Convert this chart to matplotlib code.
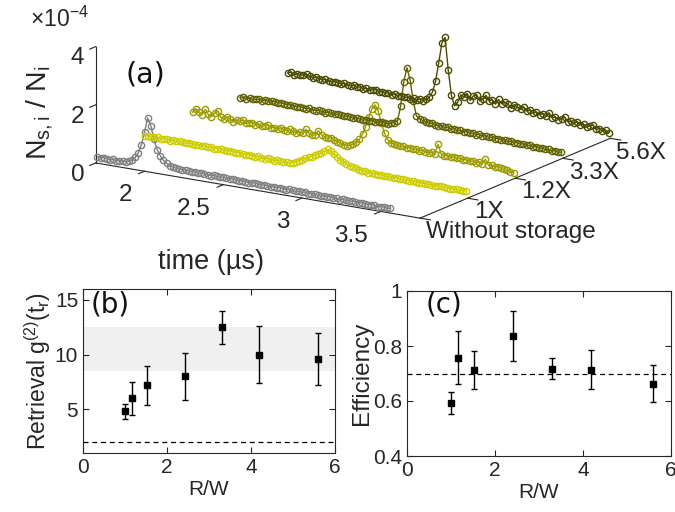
import numpy as np
import matplotlib
matplotlib.use('Agg')
import matplotlib.pyplot as plt

plt.rcParams['font.family'] = ['Liberation Sans', 'DejaVu Sans']
plt.rcParams['mathtext.fontset'] = 'custom'
plt.rcParams['mathtext.rm'] = 'Liberation Sans'
plt.rcParams['mathtext.it'] = 'Liberation Sans:italic'

# ---- panel (a): N_s,i / N_i traces (units of 1e-4), sampled every 0.02 us from 1.70 us
t_start = 1.70
t_step = 0.02
series_names = ['Without storage', '1X', '1.2X', '3.3X', '5.6X']
series_colors = ['#808080', '#cccc00', '#9c9c00', '#616100', '#4b4b00']

trace_without = [0.22, 0.20, 0.23, 0.21, 0.19, 0.22, 0.20, 0.21, 0.23, 0.22,
                 0.25, 0.30, 0.42, 0.60, 0.90, 1.35, 1.85, 1.60, 1.15, 0.82,
                 0.62, 0.48, 0.40, 0.34, 0.31, 0.29, 0.28, 0.27, 0.28, 0.27,
                 0.26, 0.27, 0.25, 0.26, 0.27, 0.25, 0.24, 0.26, 0.25, 0.24,
                 0.25, 0.23, 0.24, 0.25, 0.23, 0.22, 0.24, 0.23, 0.22, 0.23,
                 0.24, 0.22, 0.21, 0.23, 0.22, 0.20, 0.22, 0.21, 0.23, 0.21,
                 0.20, 0.22, 0.21, 0.19, 0.21, 0.20, 0.22, 0.19, 0.20, 0.21,
                 0.19, 0.18, 0.20, 0.19, 0.21, 0.18, 0.19, 0.17, 0.19, 0.18,
                 0.17, 0.19, 0.18, 0.16, 0.18, 0.17, 0.16, 0.18, 0.17, 0.15,
                 0.16, 0.17, 0.15, 0.16]
trace_1x = [0.25, 0.27, 0.24, 0.26, 0.28, 0.25, 0.27, 0.26, 0.24, 0.27,
            0.25, 0.28, 0.26, 0.24, 0.27, 0.25, 0.23, 0.26, 0.24, 0.25,
            0.23, 0.25, 0.22, 0.24, 0.26, 0.23, 0.21, 0.24, 0.22, 0.20,
            0.23, 0.21, 0.19, 0.22, 0.20, 0.18, 0.21, 0.19, 0.17, 0.20,
            0.18, 0.16, 0.19, 0.17, 0.15, 0.17, 0.16, 0.20, 0.24, 0.30,
            0.36, 0.42, 0.48, 0.52, 0.58, 0.63, 0.70, 0.78, 0.86, 0.82,
            0.74, 0.66, 0.58, 0.52, 0.47, 0.43, 0.40, 0.37, 0.35, 0.33,
            0.32, 0.30, 0.31, 0.29, 0.28, 0.30, 0.27, 0.28, 0.26, 0.27,
            0.28, 0.26, 0.27, 0.25, 0.26, 0.27, 0.25, 0.24, 0.26, 0.25,
            0.24, 0.25, 0.23, 0.24, 0.25, 0.23, 0.24, 0.22, 0.23, 0.24,
            0.22, 0.23, 0.24]
trace_12x = [0.38, 0.52, 0.41, 0.35, 0.55, 0.40, 0.34, 0.48, 0.56, 0.37,
             0.33, 0.42, 0.36, 0.30, 0.38, 0.34, 0.40, 0.31, 0.35, 0.37,
             0.32, 0.36, 0.30, 0.34, 0.38, 0.31, 0.33, 0.29, 0.35, 0.32,
             0.30, 0.36, 0.31, 0.28, 0.33, 0.30, 0.46, 0.34, 0.29, 0.32,
             0.48, 0.36, 0.30, 0.27, 0.31, 0.26, 0.22, 0.18, 0.15, 0.13,
             0.16, 0.22, 0.30, 0.42, 0.62, 0.90, 1.25, 1.55, 1.70, 1.50,
             1.10, 0.78, 0.58, 0.50, 0.46, 0.44, 0.42, 0.45, 0.41, 0.43,
             0.40, 0.42, 0.38, 0.41, 0.39, 0.37, 0.40, 0.36, 0.72, 0.39,
             0.36, 0.38, 0.35, 0.37, 0.34, 0.36, 0.33, 0.35, 0.32, 0.34,
             0.31, 0.33, 0.30, 0.48, 0.29, 0.31, 0.27, 0.29, 0.26, 0.24,
             0.22, 0.20, 0.18]
trace_33x = [0.20, 0.22, 0.19, 0.24, 0.21, 0.23, 0.25, 0.22, 0.26, 0.24,
             0.27, 0.25, 0.23, 0.26, 0.24, 0.22, 0.25, 0.23, 0.21, 0.24,
             0.22, 0.20, 0.23, 0.21, 0.19, 0.22, 0.20, 0.18, 0.21, 0.19,
             0.17, 0.20, 0.18, 0.16, 0.19, 0.17, 0.15, 0.18, 0.16, 0.14,
             0.17, 0.15, 0.18, 0.14, 0.16, 0.19, 0.17, 0.15, 0.20, 0.24,
             0.32, 0.85, 1.70, 2.20, 1.80, 1.10, 0.60, 0.52, 0.48, 0.45,
             0.42, 0.44, 0.40, 0.38, 0.41, 0.37, 0.39, 0.35, 0.37, 0.34,
             0.36, 0.33, 0.35, 0.32, 0.34, 0.31, 0.33, 0.30, 0.32, 0.29,
             0.31, 0.28, 0.30, 0.27, 0.29, 0.26, 0.28, 0.25, 0.27, 0.24,
             0.26, 0.23, 0.25, 0.22, 0.24, 0.21, 0.23, 0.20, 0.22, 0.19,
             0.21, 0.18, 0.20]
trace_56x = [0.36, 0.40, 0.33, 0.38, 0.35, 0.39, 0.42, 0.37, 0.34, 0.38,
             0.35, 0.32, 0.36, 0.33, 0.30, 0.34, 0.31, 0.29, 0.33, 0.30,
             0.28, 0.32, 0.27, 0.30, 0.26, 0.29, 0.25, 0.27, 0.30, 0.24,
             0.26, 0.23, 0.27, 0.22, 0.25, 0.21, 0.24, 0.20, 0.23, 0.19,
             0.22, 0.18, 0.24, 0.20, 0.26, 0.35, 0.55, 0.95, 1.60, 2.30,
             2.50, 1.40, 0.55, 0.20, 0.35, 0.62, 0.55, 0.70, 0.48, 0.66,
             0.72, 0.52, 0.60, 0.75, 0.58, 0.64, 0.50, 0.68, 0.55, 0.62,
             0.58, 0.45, 0.60, 0.52, 0.48, 0.56, 0.44, 0.50, 0.42, 0.47,
             0.40, 0.45, 0.38, 0.52, 0.36, 0.41, 0.34, 0.39, 0.46, 0.32,
             0.35, 0.30, 0.38, 0.28, 0.33, 0.26, 0.30, 0.36, 0.22, 0.27,
             0.20, 0.25, 0.18]
traces = [trace_without, trace_1x, trace_12x, trace_33x, trace_56x]

# ---- panels (b) and (c)
rw = [1.0, 1.17, 1.52, 2.42, 3.30, 4.19, 5.60]
g2 = [4.8, 6.0, 7.2, 8.0, 12.5, 10.0, 9.6]
g2_err = [0.65, 1.5, 1.8, 2.15, 1.5, 2.6, 2.4]
g2_band = (8.5, 12.5)
g2_classical = 2.0
eff = [0.594, 0.758, 0.712, 0.836, 0.718, 0.714, 0.663]
eff_err = [0.04, 0.097, 0.07, 0.09, 0.037, 0.07, 0.067]
eff_ref = 0.70

fig = plt.figure(figsize=(6.75, 5.12), dpi=100)

# ---------------- (a)  square 3D axes, centred on the box centre
side = 560
cx, cy = 345.5, 100
ax = fig.add_axes([(cx - side / 2) / 675, 1 - (cy + side / 2) / 512,
                   side / 675, side / 512], projection='3d', proj_type='ortho')
ax.set_facecolor('none')
ax.patch.set_alpha(0)
ax.view_init(elev=15.5, azim=-57.5)
ax.set_box_aspect((3.31, 3.05, 1.04), zoom=0.93)
for k, (vals, col) in enumerate(zip(traces, series_colors)):
    tt = t_start + t_step * np.arange(len(vals))
    ln, = ax.plot(tt, np.full(len(vals), k), vals, color=col, lw=1.0,
                  marker='o', ms=4.5, mfc='none', mew=1.0)
    ln.set_clip_on(False)
ax.set_xlim(1.69, 3.75)
ax.set_ylim(0, 4)
ax.set_zlim(0, 4)
ax.set_xticks([2, 2.5, 3, 3.5])
ax.set_xticklabels(['2', '2.5', '3', '3.5'], ha='right')
ax.set_yticks(range(len(series_names)))
ax.set_yticklabels(series_names, ha='left', va='top')
ax.set_zticks([0, 2, 4])
ax.set_zticklabels(['0', '2', '4'])
ax.zaxis.set_ticks_position('lower')
ax.grid(False)
for axis in (ax.xaxis, ax.yaxis, ax.zaxis):
    axis.set_pane_color((1, 1, 1, 0))
    axis.pane.set_edgecolor((1, 1, 1, 0))
    axis.line.set_color('#262626')
    axis.line.set_linewidth(0.8)
    axis._axinfo['tick']['inward_factor'] = 0.4
    axis._axinfo['tick']['outward_factor'] = 0.0
    axis._axinfo['tick']['color'] = '#262626'
ax.tick_params(labelsize=17.5, colors='#262626')
ax.tick_params(axis='x', pad=6)
ax.tick_params(axis='y', pad=-4)
ax.tick_params(axis='z', pad=-0.5)

fig.text(30 / 675, 1 - 19 / 512, r'$\times$10$^{-4}$', fontsize=16.5, color='#262626',
         va='center', ha='left')
fig.text(40 / 675, 1 - 113 / 512, r'N$_{\mathrm{s,i}}$ / N$_{\mathrm{i}}$', fontsize=20.5,
         rotation=90, ha='center', va='center', color='#262626')
fig.text(211 / 675, 1 - 262 / 512, 'time (µs)', fontsize=19.5, ha='center', va='center',
         color='#262626')
fig.text(145 / 675, 1 - 75 / 512, '(a)', fontsize=20.5, ha='center', va='center',
         family='DejaVu Sans', color='#111111')


def style_box(a):
    a.tick_params(direction='in', top=True, right=True, length=4, width=0.8,
                  labelsize=15, colors='#262626')
    for s in a.spines.values():
        s.set_linewidth(0.8)
        s.set_color('#262626')


# ---------------- (b)
axb = fig.add_axes([83 / 675, 1 - 453 / 512, 252 / 675, 164 / 512])
axb.axhspan(g2_band[0], g2_band[1], color='#f0f0f0', lw=0, zorder=0)
axb.axhline(g2_classical, color='k', ls='--', lw=0.9, dashes=(4, 3))
axb.errorbar(rw, g2, yerr=g2_err, fmt='s', color='k', ms=5, capsize=2,
             elinewidth=1, capthick=1)
axb.set_xlim(0, 6)
axb.set_ylim(1, 16)
axb.set_xticks([0, 2, 4, 6])
axb.set_yticks([5, 10, 15])
axb.set_xlabel('R/W', fontsize=15, color='#262626', labelpad=2)
axb.set_ylabel(r'Retrieval g$^{\mathrm{(2)}}$(t$_{\mathrm{r}}$)', fontsize=16.5,
               color='#262626', labelpad=1)
style_box(axb)
axb.text(0.03, 0.99, '(b)', transform=axb.transAxes, fontsize=20, va='top',
         family='DejaVu Sans', color='#111111')

# ---------------- (c)
axc = fig.add_axes([407 / 675, 1 - 456 / 512, 264 / 675, 165 / 512])
axc.axhline(eff_ref, color='k', ls='--', lw=0.9, dashes=(4, 3))
axc.errorbar(rw, eff, yerr=eff_err, fmt='s', color='k', ms=5, capsize=2,
             elinewidth=1, capthick=1)
axc.set_xlim(0, 6)
axc.set_ylim(0.4, 1.0)
axc.set_xticks([0, 2, 4, 6])
axc.set_yticks([0.4, 0.6, 0.8, 1.0])
axc.set_yticklabels(['0.4', '0.6', '0.8', '1'])
axc.set_xlabel('R/W', fontsize=15, color='#262626', labelpad=2)
axc.set_ylabel('Efficiency', fontsize=17.5, color='#262626', labelpad=0)
style_box(axc)
axc.text(0.07, 1.0, '(c)', transform=axc.transAxes, fontsize=20, va='top',
         family='DejaVu Sans', color='#111111')

fig.savefig('out.png', dpi=100)
